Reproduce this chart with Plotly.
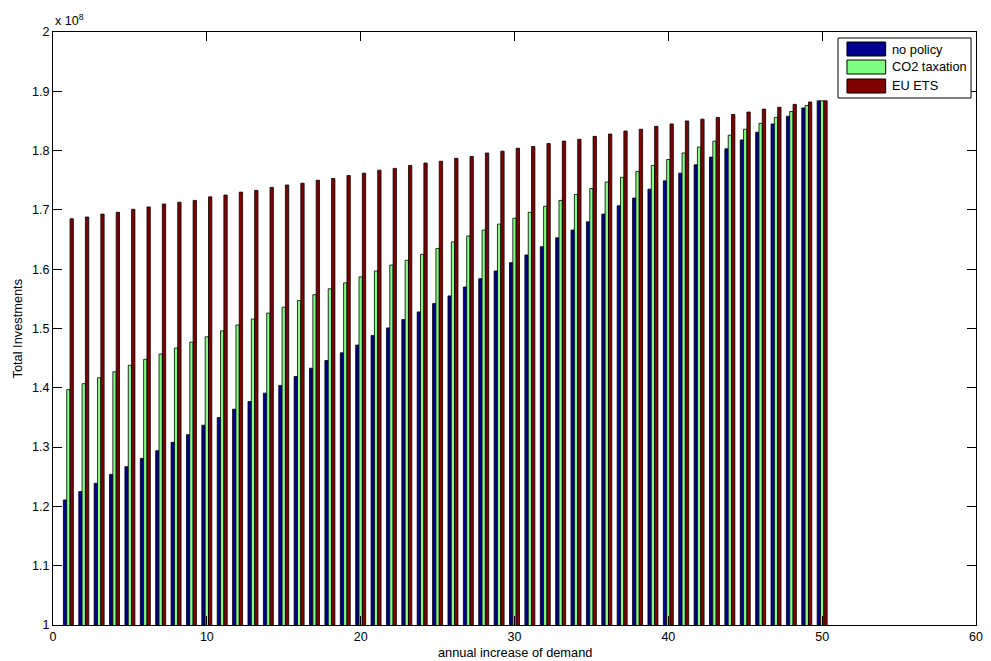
import plotly.graph_objects as go

# Annual increase of demand (group positions)
demand_steps = list(range(1, 51))

# Total investments, in units of 1e8
no_policy = [
    1.211, 1.225, 1.239, 1.254, 1.267, 1.281, 1.294, 1.308, 1.321, 1.337,
    1.350, 1.364, 1.377, 1.391, 1.404, 1.419, 1.433, 1.446, 1.459, 1.472,
    1.488, 1.501, 1.515, 1.528, 1.542, 1.555, 1.570, 1.584, 1.597, 1.611,
    1.624, 1.638, 1.653, 1.666, 1.680, 1.693, 1.707, 1.720, 1.735, 1.749,
    1.762, 1.776, 1.789, 1.803, 1.818, 1.831, 1.845, 1.858, 1.872, 1.884,
]
co2_taxation = [
    1.397, 1.407, 1.417, 1.427, 1.438, 1.448, 1.457, 1.467, 1.477, 1.486,
    1.496, 1.506, 1.516, 1.526, 1.536, 1.547, 1.557, 1.567, 1.577, 1.587,
    1.597, 1.607, 1.615, 1.625, 1.635, 1.646, 1.656, 1.666, 1.676, 1.686,
    1.696, 1.706, 1.716, 1.726, 1.736, 1.747, 1.755, 1.765, 1.775, 1.785,
    1.796, 1.806, 1.816, 1.826, 1.836, 1.846, 1.856, 1.866, 1.876, 1.884,
]
eu_ets = [
    1.685, 1.688, 1.693, 1.696, 1.701, 1.705, 1.710, 1.713, 1.716, 1.722,
    1.725, 1.730, 1.733, 1.738, 1.742, 1.745, 1.750, 1.753, 1.758, 1.762,
    1.767, 1.770, 1.775, 1.779, 1.782, 1.787, 1.790, 1.796, 1.799, 1.804,
    1.807, 1.812, 1.816, 1.819, 1.824, 1.828, 1.833, 1.836, 1.841, 1.845,
    1.850, 1.853, 1.856, 1.861, 1.865, 1.870, 1.873, 1.878, 1.882, 1.884,
]

series_names = ["no policy", "CO2 taxation", "EU ETS"]
series_colors = ["#00008F", "#80FF80", "#800000"]
series_values = [no_policy, co2_taxation, eu_ets]

x_ticks = [0, 10, 20, 30, 40, 50, 60]
y_ticks = [1.0, 1.1, 1.2, 1.3, 1.4, 1.5, 1.6, 1.7, 1.8, 1.9, 2.0]
y_tick_text = ["1", "1.1", "1.2", "1.3", "1.4", "1.5", "1.6", "1.7", "1.8", "1.9", "2"]

FONT = "Liberation Sans, Arial, Helvetica, sans-serif"
W, H = 991, 661
ML, MR, MT, MB = 53, 8, 32, 36
PW, PH = W - ML - MR, H - MT - MB


def px_x(px):
    return (px - ML) / PW


def px_y(py):
    return (H - MB - py) / PH


fig = go.Figure()
for name, color, vals in zip(series_names, series_colors, series_values):
    fig.add_trace(go.Bar(
        x=demand_steps, y=vals, name=name,
        marker=dict(color=color, line=dict(color="black", width=0.8)),
        showlegend=False,
    ))

axis_common = dict(
    showline=True, linecolor="black", linewidth=1, mirror="ticks",
    ticks="inside", ticklen=9, tickcolor="black", tickwidth=1,
    showgrid=False, zeroline=False,
    tickfont=dict(family=FONT, size=12.5, color="black"),
)

fig.update_layout(
    width=W, height=H,
    margin=dict(l=ML, r=MR, t=MT, b=MB),
    paper_bgcolor="white", plot_bgcolor="white",
    barmode="group", bargap=0.35, bargroupgap=0.0,
    xaxis=dict(range=[0, 60], tickvals=x_ticks, **axis_common),
    yaxis=dict(range=[1, 2], tickvals=y_ticks, ticktext=y_tick_text, **axis_common),
    font=dict(family=FONT, size=12, color="black"),
)

annotations = [
    dict(text="x 10<sup>8</sup>", xref="paper", yref="paper", x=0, y=1,
         xanchor="left", yanchor="bottom", yshift=2, showarrow=False,
         font=dict(family=FONT, size=12.5)),
    dict(text="annual increase of demand", xref="paper", yref="paper", x=0.5, y=0,
         xanchor="center", yanchor="top", yshift=-18, showarrow=False,
         font=dict(family=FONT, size=12.8)),
    dict(text="Total Investments", xref="paper", yref="paper", x=0, y=0.5,
         xanchor="center", yanchor="middle", xshift=-36, textangle=-90, showarrow=False,
         font=dict(family=FONT, size=12.8)),
]

# Legend box with wide colour patches
shapes = [dict(type="rect", xref="paper", yref="paper",
               x0=px_x(844), x1=px_x(978), y0=px_y(98), y1=px_y(38),
               fillcolor="white", line=dict(color="black", width=1), layer="above")]
row_centers = [49, 67, 86]
for name, color, cy in zip(series_names, series_colors, row_centers):
    shapes.append(dict(type="rect", xref="paper", yref="paper",
                       x0=px_x(853), x1=px_x(892), y0=px_y(cy + 7), y1=px_y(cy - 7),
                       fillcolor=color, line=dict(color="black", width=1), layer="above"))
    annotations.append(dict(text=name, xref="paper", yref="paper",
                            x=px_x(896), y=px_y(cy), xanchor="left", yanchor="middle",
                            showarrow=False, font=dict(family=FONT, size=12.8)))

fig.update_layout(shapes=shapes, annotations=annotations)

fig.write_html("out.html")
